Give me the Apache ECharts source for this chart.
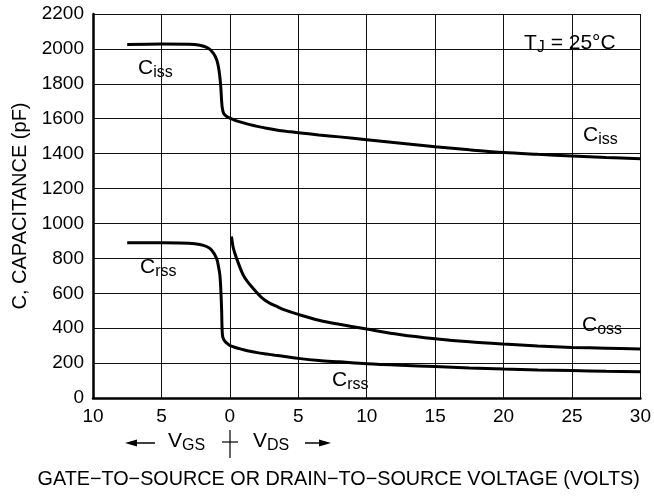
<!DOCTYPE html>
<html><head><meta charset="utf-8">
<script src="https://cdn.jsdelivr.net/npm/echarts@6/dist/echarts.min.js"></script>
<style>html,body{margin:0;padding:0;background:#fff}#c{width:654px;height:496px}</style>
</head><body><div id="c"></div>
<script>
// Data (V: negative = VGS side, positive = VDS side; C in pF)
const cissX = [-7.5, -5, -3, -2.2, -1.6, -1.2, -0.95, -0.8, -0.68, -0.6, -0.55, -0.45, -0.25, 0, 0.25, 0.5, 1, 1.46, 2, 2.68, 3.5, 4.2, 5, 6.5, 8, 10, 12.5, 15, 17.5, 20, 22.5, 25, 27.5, 30];
const cissY = [2025, 2028, 2027, 2021, 2005, 1975, 1935, 1880, 1800, 1700, 1660, 1630, 1614, 1603, 1595, 1588, 1576, 1566, 1556, 1545, 1534, 1527, 1520, 1507, 1496, 1480, 1460, 1440, 1422, 1406, 1396, 1387, 1378, 1371];
const crssX = [-7.5, -5, -3, -2.2, -1.7, -1.34, -0.97, -0.8, -0.73, -0.66, -0.6, -0.57, -0.52, -0.36, -0.15, 0, 0.3, 0.6, 1, 1.46, 2, 2.68, 3.3, 4, 5, 6.5, 8, 10, 12.5, 15, 17.5, 20, 22.5, 25, 27.5, 30];
const crssY = [890, 889, 886, 880, 868, 848, 800, 740, 705, 620, 500, 400, 350, 324, 310, 301, 292, 285, 276, 268, 260, 252, 245, 238, 227, 215, 207, 196, 187, 180, 172, 166, 161, 157, 153, 151];
const cossX = [0.12, 0.25, 0.49, 0.97, 1.3, 1.7, 2.3, 2.92, 3.5, 4, 5, 6.5, 8, 10, 12.5, 15, 17.5, 20, 22.5, 25, 27.5, 30];
const cossY = [925, 860, 800, 705, 665, 628, 577, 543, 522, 505, 479, 445, 422, 395, 363, 340, 322, 309, 298, 290, 285, 281];

const xMin = -10, xMax = 30, xStep = 5;
const yMin = 0, yMax = 2200, yStep = 200;
const yAxisTitle = 'C, CAPACITANCE (pF)';
const xAxisTitle = 'GATE\u2212TO\u2212SOURCE OR DRAIN\u2212TO\u2212SOURCE VOLTAGE (VOLTS)';

const FONT = "'Liberation Sans', Arial, Helvetica, sans-serif";
const zip = (xs, ys) => xs.map((x, i) => [x, ys[i]]);

const rich = {
  m: { fontSize: 21, fontFamily: FONT, lineHeight: 26, color: '#000' },
  s: { fontSize: 16, fontFamily: FONT, lineHeight: 14, verticalAlign: 'bottom', color: '#000' }
};

function label(tx, ty, text, box) {
  const children = [];
  if (box) children.push({ type: 'rect', shape: { x: box[0], y: box[1], width: box[2], height: box[3] }, style: { fill: '#fff' } });
  children.push({ type: 'text', x: tx, y: ty, style: { text: text, rich: rich, verticalAlign: 'middle', align: 'left' } });
  return { type: 'group', children: children };
}

const chart = echarts.init(document.getElementById('c'), null, { renderer: 'canvas' });
const lineStyle = { color: '#000', width: 3 };
function ser(name, data) {
  return { name: name, type: 'line', data: data, showSymbol: false, smooth: 0.3, lineStyle: lineStyle, z: 5, silent: true };
}

chart.setOption({
  animation: false,
  backgroundColor: '#fff',
  grid: { left: 93, right: 13, top: 14, bottom: 98 },
  xAxis: {
    type: 'value', min: xMin, max: xMax, interval: xStep,
    axisLine: { show: true, onZero: false, lineStyle: { color: '#000', width: 2.5 } },
    axisTick: { show: false },
    splitLine: { show: true, lineStyle: { color: '#111', width: 1 } },
    axisLabel: { formatter: v => String(Math.abs(v)), color: '#000', fontSize: 19, fontFamily: FONT, margin: 9 },
    name: xAxisTitle, nameLocation: 'middle', nameGap: 72,
    nameTextStyle: { color: '#000', fontSize: 19.8, fontFamily: FONT, padding: [0, 56, 0, 0] }
  },
  yAxis: {
    type: 'value', min: yMin, max: yMax, interval: yStep,
    axisLine: { show: true, onZero: false, lineStyle: { color: '#000', width: 2.5 } },
    axisTick: { show: false },
    splitLine: { show: true, lineStyle: { color: '#111', width: 1 } },
    axisLabel: { formatter: v => String(v), color: '#000', fontSize: 19, fontFamily: FONT, margin: 9 },
    name: yAxisTitle, nameLocation: 'middle', nameGap: 60,
    nameTextStyle: { color: '#000', fontSize: 20, fontFamily: FONT }
  },
  series: [ser('Ciss', zip(cissX, cissY)), ser('Crss', zip(crssX, crssY)), ser('Coss', zip(cossX, cossY))],
  graphic: {
    elements: [
      Object.assign(label(138, 68, '{m|C}{s|iss}', [130, 52, 52, 29]), { z: 1 }),
      Object.assign(label(140, 267, '{m|C}{s|rss}', [128, 245, 69, 38]), { z: 1 }),
      Object.assign(label(583, 135, '{m|C}{s|iss}', [578, 120, 48, 32]), { z: 1 }),
      Object.assign(label(582, 325, '{m|C}{s|oss}', [570, 312, 63, 31]), { z: 1 }),
      Object.assign(label(332, 380, '{m|C}{s|rss}', [320, 373, 62, 23]), { z: 1 }),
      Object.assign(label(524, 43, '{m|T}{s|J}{m| = 25\u00B0C}', [513, 23, 115, 39]), { z: 1 }),
      label(168, 441, '{m|V}{s|GS}', null),
      label(253, 441, '{m|V}{s|DS}', null),
      { type: 'line', shape: { x1: 134, y1: 443, x2: 155, y2: 443 }, style: { stroke: '#000', lineWidth: 1.5 } },
      { type: 'polygon', shape: { points: [[125, 443], [137, 439.5], [137, 446.5]] }, style: { fill: '#000' } },
      { type: 'line', shape: { x1: 305, y1: 443, x2: 322, y2: 443 }, style: { stroke: '#000', lineWidth: 1.5 } },
      { type: 'polygon', shape: { points: [[331, 443], [319, 439.5], [319, 446.5]] }, style: { fill: '#000' } },
      { type: 'line', shape: { x1: 230, y1: 430, x2: 230, y2: 458 }, style: { stroke: '#000', lineWidth: 1.2 } },
      { type: 'line', shape: { x1: 222, y1: 442, x2: 238, y2: 442 }, style: { stroke: '#000', lineWidth: 1.2 } }
    ]
  }
});
</script></body></html>
